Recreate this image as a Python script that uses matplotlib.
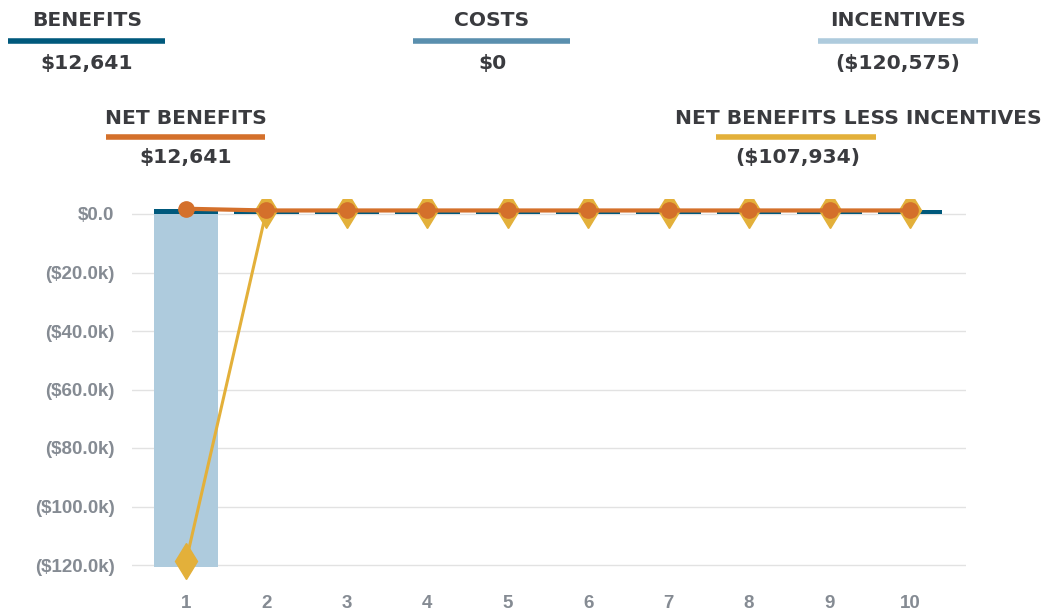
import matplotlib
matplotlib.use("Agg")
import matplotlib.pyplot as plt
from matplotlib.lines import Line2D
from matplotlib.ticker import FuncFormatter
import numpy as np

# data
years = [1, 2, 3, 4, 5, 6, 7, 8, 9, 10]
benefits = [1800, 1205, 1205, 1205, 1204, 1204, 1204, 1204, 1205, 1205]
costs = [0, 0, 0, 0, 0, 0, 0, 0, 0, 0]
incentives = [-120575, 0, 0, 0, 0, 0, 0, 0, 0, 0]
net_benefits = [b - c for b, c in zip(benefits, costs)]
net_less_inc = [n + i for n, i in zip(net_benefits, incentives)]

summary_titles = ["BENEFITS", "COSTS", "INCENTIVES", "NET BENEFITS", "NET BENEFITS LESS INCENTIVES"]
summary_values = ["$12,641", "$0", "($120,575)", "$12,641", "($107,934)"]

c_ben = "#00597c"
c_cost = "#5a8fae"
c_inc = "#aecbdd"
c_net = "#d4702b"
c_nli = "#e3b03a"

W, H = 1053, 612
fig = plt.figure(figsize=(W / 100, H / 100), dpi=100)

def fx(x):
    return x / W

def fy(y):
    return 1 - y / H

# header legend blocks: (title x, title y, bar x0, bar x1, bar y, value x, value y)
blocks = [
    (87, 21, 8, 165, 41, 87, 63, c_ben),
    (492, 21, 413, 570, 41, 492, 63, c_cost),
    (898, 21, 818, 978, 41, 898, 63, c_inc),
    (186, 118, 106, 265, 137, 186, 158, c_net),
    (858, 118, 716, 876, 137, 798, 158, c_nli),
]
hfont = dict(family=["DejaVu Sans"], weight="bold", color="#3a3b3f", fontsize=14.6)
for (tx, ty, bx0, bx1, by, vx, vy, col), t, v in zip(blocks, summary_titles, summary_values):
    fig.text(fx(tx), fy(ty), t, ha="center", va="center", **hfont)
    fig.add_artist(Line2D([fx(bx0), fx(bx1)], [fy(by), fy(by)], color=col, lw=4, solid_capstyle="butt"))
    fig.text(fx(vx), fy(vy), v, ha="center", va="center", **hfont)

# axes placed so that 0 -> y=214 px and -120k -> y=565 px
ymin, ymax = -125000, 5000
ppu = (565 - 214) / 120000
top_px = 214 - ymax * ppu
bot_px = 565 + (-120000 - ymin) * ppu
x0_px, x1_px = 132, 966
ax = fig.add_axes([fx(x0_px), 1 - bot_px / H, (x1_px - x0_px) / W, (bot_px - top_px) / H])

x = np.array(years)
ax.bar(x, incentives, width=0.8, color=c_inc, zorder=2)
ax.bar(x, costs, width=0.8, color=c_cost, zorder=2)
ax.bar(x, benefits, width=0.8, color=c_ben, zorder=3)
ax.plot(x, net_less_inc, color=c_nli, lw=2.2, marker="d", markersize=18, zorder=4)
ax.plot(x, net_benefits, color=c_net, lw=3, marker="o", markersize=11, zorder=5)

ax.set_xlim(1 - 54 / 80.4, 10 + 56 / 80.4)
ax.set_ylim(ymin, ymax)
ax.set_yticks(np.arange(-120000, 1, 20000))
ax.set_xticks(years)

def money(v, pos):
    if abs(v) < 1:
        return "$0.0"
    s = "${:.1f}k".format(abs(v) / 1000)
    return "(" + s + ")" if v < 0 else s

ax.yaxis.set_major_formatter(FuncFormatter(money))
ax.grid(axis="y", color="#e2e2e2", lw=1, zorder=0)
ax.set_axisbelow(True)
for s in ax.spines.values():
    s.set_visible(False)
ax.tick_params(length=0, colors="#858b93", labelsize=13.5)
ax.tick_params(axis="y", pad=12.5)
ax.tick_params(axis="x", pad=11)
for lab in ax.get_xticklabels() + ax.get_yticklabels():
    lab.set_fontweight("bold")
    lab.set_family(["Liberation Sans", "DejaVu Sans"])

fig.savefig("out.png", dpi=100)
